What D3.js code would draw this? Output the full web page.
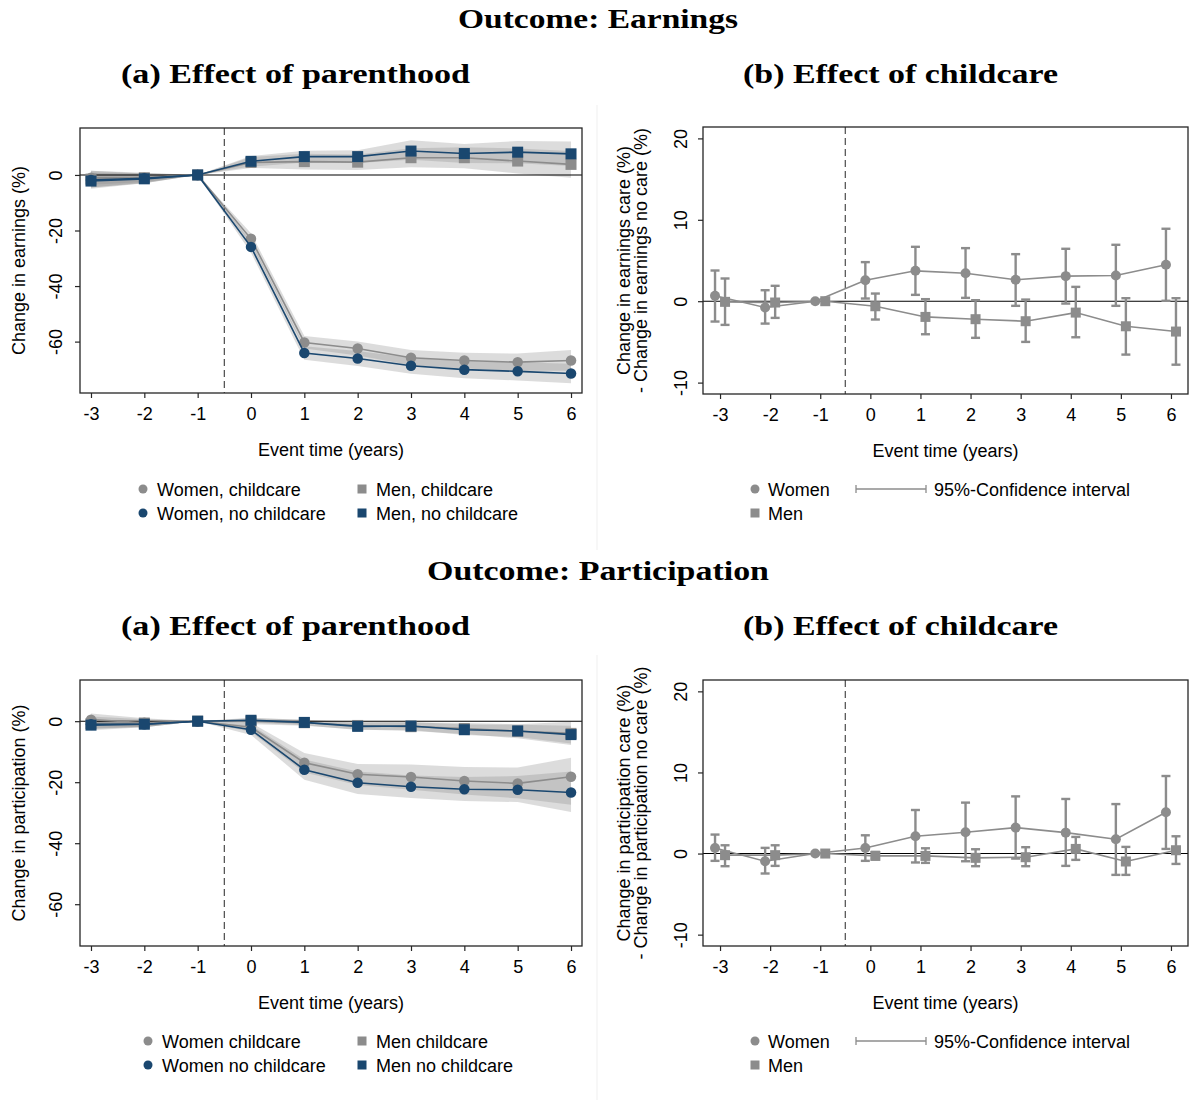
<!DOCTYPE html>
<html><head><meta charset="utf-8">
<script src="https://cdn.jsdelivr.net/npm/d3@7"></script>
<style>body{margin:0;background:#fff}</style>
</head><body>
<script>
// ---------- data ----------
const years = [-3, -2, -1, 0, 1, 2, 3, 4, 5, 6];
const yTicksParent = [0, -20, -40, -60];
const yTicksCare = [20, 10, 0, -10];

// Earnings: effect of parenthood
const earnWomenCare   = [-1.0, -1.0, 0, -23.0, -60.3, -62.5, -65.8, -66.8, -67.4, -66.8];
const earnWomenCareLo = [-3.5, -2.5, 0, -25.0, -62.5, -65.0, -68.5, -69.7, -70.5, -70.5];
const earnWomenCareHi = [1.5, 0.5, 0, -21.0, -58.0, -60.0, -63.0, -64.0, -64.3, -63.0];
const earnWomenNo     = [-1.8, -1.2, 0, -25.9, -64.1, -66.1, -68.7, -70.1, -70.7, -71.5];
const earnWomenNoLo   = [-4.5, -3.0, 0, -28.0, -66.5, -68.8, -71.6, -73.2, -74.0, -75.0];
const earnWomenNoHi   = [0.9, 0.6, 0, -23.8, -61.7, -63.4, -65.8, -67.0, -67.4, -68.0];
const earnMenCare     = [-1.5, -1.0, 0, 4.5, 4.8, 4.6, 6.2, 6.2, 5.0, 3.8];
const earnMenCareLo   = [-4.5, -2.8, 0, 2.5, 2.0, 1.8, 2.8, 2.4, 0.5, -1.0];
const earnMenCareHi   = [1.5, 0.8, 0, 6.5, 7.6, 7.4, 9.6, 10.0, 9.5, 8.6];
const earnMenNo       = [-2.2, -1.4, 0, 4.9, 6.6, 6.6, 8.6, 7.7, 8.2, 7.6];
const earnMenNoLo     = [-5.0, -3.0, 0, 3.0, 4.5, 4.3, 5.5, 4.3, 4.2, 3.2];
const earnMenNoHi     = [0.6, 0.2, 0, 6.8, 8.7, 8.9, 12.5, 11.1, 12.2, 12.0];

// Participation: effect of parenthood
const partWomenCare   = [0.5, -0.5, 0, -2.0, -13.6, -17.4, -18.3, -19.6, -20.4, -18.2];
const partWomenCareLo = [-1.5, -2.0, 0, -3.5, -16.8, -20.9, -22.5, -24.0, -25.3, -27.4];
const partWomenCareHi = [2.5, 1.0, 0, -0.5, -10.4, -14.0, -14.2, -15.0, -15.2, -12.0];
const partWomenNo     = [-1.0, -1.0, 0, -2.8, -15.9, -20.2, -21.5, -22.3, -22.5, -23.4];
const partWomenNoLo   = [-2.5, -2.0, 0, -4.5, -19.2, -23.9, -25.2, -26.2, -26.5, -29.8];
const partWomenNoHi   = [0.5, 0.0, 0, -1.2, -12.6, -16.5, -17.8, -18.3, -18.0, -16.5];
const partMenCare     = [-0.8, -0.6, 0, 0.0, -0.5, -1.4, -1.8, -2.4, -3.3, -4.0];
const partMenCareLo   = [-2.5, -1.8, 0, -1.0, -1.5, -2.7, -3.2, -4.2, -5.6, -7.8];
const partMenCareHi   = [1.5, 0.6, 0, 1.0, 0.5, -0.1, -0.4, -0.6, -1.0, -0.2];
const partMenNo       = [-1.3, -1.0, 0, 0.3, -0.4, -1.7, -1.6, -2.8, -3.2, -4.4];
const partMenNoLo     = [-3.0, -2.0, 0, -0.5, -1.3, -2.9, -2.9, -4.5, -5.2, -7.3];
const partMenNoHi     = [0.4, 0.0, 0, 1.1, 0.5, -0.5, -0.3, -1.1, -1.2, -1.5];

// Earnings: effect of childcare (difference)
const earnDiffWomen   = [0.66, -0.78, 0, 2.58, 3.73, 3.44, 2.63, 3.08, 3.16, 4.47];
const earnDiffWomenLo = [-2.5, -2.75, 0, 0.33, 0.78, 0.41, -0.57, -0.29, -0.57, 0.05];
const earnDiffWomenHi = [3.77, 1.35, 0, 4.8, 6.68, 6.52, 5.78, 6.44, 6.93, 8.9];
const earnDiffMen     = [-0.08, -0.16, 0, -0.62, -1.93, -2.21, -2.46, -1.4, -3.08, -3.73];
const earnDiffMenLo   = [-2.91, -2.05, 0, -2.25, -4.06, -4.5, -5.0, -4.43, -6.56, -7.8];
const earnDiffMenHi   = [2.79, 1.89, 0, 0.94, 0.25, 0.12, 0.2, 1.76, 0.37, 0.37];

// Participation: effect of childcare (difference)
const partDiffWomen   = [0.69, -0.95, 0, 0.69, 2.13, 2.62, 3.2, 2.58, 1.76, 5.09];
const partDiffWomenLo = [-0.9, -2.46, 0, -0.9, -1.1, -0.95, -0.62, -1.52, -2.63, 0.57];
const partDiffWomenHi = [2.34, 0.7, 0, 2.25, 5.37, 6.28, 7.05, 6.73, 6.1, 9.56];
const partDiffMen     = [-0.2, -0.2, 0, -0.29, -0.29, -0.53, -0.45, 0.57, -0.98, 0.41];
const partDiffMenLo   = [-1.56, -1.52, 0, -0.7, -1.15, -1.56, -1.56, -0.78, -2.63, -1.28];
const partDiffMenHi   = [1.02, 1.02, 0, 0.2, 0.65, 0.53, 0.78, 2.05, 0.82, 2.13];

// ---------- drawing ----------
const GRAY = "#8c8c8c", NAVY = "#1a476f", FRAME = "#262626";
const SANS = "'Liberation Sans', Arial, Helvetica, sans-serif";
const SERIF = "'Liberation Serif', 'DejaVu Serif', serif";

const svg = d3.select("body").append("svg")
  .attr("width", 1189).attr("height", 1102)
  .style("font-family", SANS);

function title(txt, cx, y, w) {
  svg.append("text").attr("x", cx - w / 2).attr("y", y)
    .attr("textLength", w).attr("lengthAdjust", "spacingAndGlyphs")
    .style("font-family", SERIF).style("font-weight", "bold").style("font-size", "27px")
    .text(txt);
}
title("Outcome: Earnings", 598, 28, 280);
title("(a) Effect of parenthood", 295.5, 83, 349);
title("(b) Effect of childcare", 900.5, 83, 315);
title("Outcome: Participation", 598, 580, 342);
title("(a) Effect of parenthood", 295.5, 635, 349);
title("(b) Effect of childcare", 900.5, 635, 315);

// faint separators
svg.append("line").attr("x1", 597).attr("x2", 597).attr("y1", 105).attr("y2", 550).attr("stroke", "#efefef");
svg.append("line").attr("x1", 597).attr("x2", 597).attr("y1", 655).attr("y2", 1100).attr("stroke", "#efefef");

function axes(g, x, y, L, R, T, B, yTicks, labOff) {
  const xa = g.append("g").attr("transform", `translate(0,${B})`)
    .call(d3.axisBottom(x).tickValues(years).tickSize(5).tickSizeOuter(0).tickPadding(9).tickFormat(d => String(d)));
  const ya = g.append("g").attr("transform", `translate(${L},0)`)
    .call(d3.axisLeft(y).tickValues(yTicks).tickSize(5).tickSizeOuter(0).tickFormat(d => String(d)));
  [xa, ya].forEach(a => {
    a.select(".domain").remove();
    a.selectAll("line").attr("stroke", FRAME).attr("stroke-width", 1.2);
    a.selectAll("text").style("font-family", SANS).style("font-size", "18px").attr("fill", "#000");
  });
  ya.selectAll("text").attr("transform", "rotate(-90)").attr("x", 0).attr("y", -labOff)
    .attr("dy", 0).attr("text-anchor", "middle");
  g.append("rect").attr("x", L).attr("y", T).attr("width", R - L).attr("height", B - T)
    .attr("fill", "none").attr("stroke", FRAME).attr("stroke-width", 1.3);
}

function refLines(g, x, y, L, R, T, B) {
  g.append("line").attr("x1", L).attr("x2", R).attr("y1", y(0)).attr("y2", y(0))
    .attr("stroke", "#000").attr("stroke-width", 1.1);
  g.append("line").attr("x1", x(-0.5)).attr("x2", x(-0.5)).attr("y1", T).attr("y2", B)
    .attr("stroke", "#4a4a4a").attr("stroke-width", 1.2).attr("stroke-dasharray", "7,4");
}

function marker(g, cx, cy, shape, color, size) {
  if (shape === "circle") {
    g.append("circle").attr("cx", cx).attr("cy", cy).attr("r", size / 2).attr("fill", color);
  } else {
    g.append("rect").attr("x", cx - size / 2).attr("y", cy - size / 2)
      .attr("width", size).attr("height", size).attr("fill", color);
  }
}

function panelParent(cfg) {
  const { L, R, T, B } = cfg;
  const g = svg.append("g");
  const x = d3.scaleLinear().domain([-3.206, 6.206]).range([L, R]);
  const y = d3.scaleLinear().domain(cfg.yd).range([B, T]);
  const rows = s => years.map((t, i) => ({ t, v: s.v[i], lo: s.lo[i], hi: s.hi[i] }));
  cfg.series.forEach(s => {
    g.append("path").datum(rows(s))
      .attr("d", d3.area().x(d => x(d.t)).y0(d => y(d.lo)).y1(d => y(d.hi)))
      .attr("fill", "#8a8a8a").attr("fill-opacity", 0.3);
  });
  refLines(g, x, y, L, R, T, B);
  cfg.series.forEach(s => {
    g.append("path").datum(rows(s))
      .attr("d", d3.line().x(d => x(d.t)).y(d => y(d.v)))
      .attr("fill", "none").attr("stroke", s.color).attr("stroke-width", 1.6);
    rows(s).forEach(d => marker(g, x(d.t), y(d.v), s.shape, s.color, s.shape === "circle" ? 10.5 : 11));
  });
  axes(g, x, y, L, R, T, B, yTicksParent, 18);
  g.append("text").attr("transform", `translate(25,${(T + B) / 2}) rotate(-90)`)
    .attr("text-anchor", "middle").style("font-size", "18px").text(cfg.ylab);
  g.append("text").attr("x", (L + R) / 2).attr("y", B + 63).attr("text-anchor", "middle")
    .style("font-size", "18px").text("Event time (years)");
  // legend
  const lg = cfg.legend;
  const items = [
    { x: lg.c1, y: lg.y1, s: cfg.series[0] }, { x: lg.c2, y: lg.y1, s: cfg.series[1] },
    { x: lg.c1, y: lg.y2, s: cfg.series[2] }, { x: lg.c2, y: lg.y2, s: cfg.series[3] }
  ];
  items.forEach(it => {
    marker(g, it.x, it.y, it.s.shape, it.s.color, it.s.shape === "circle" ? 9 : 9);
    g.append("text").attr("x", it.x + 14).attr("y", it.y + 6.5).style("font-size", "18px").text(it.s.name);
  });
}

function panelCare(cfg) {
  const { L, R, T, B } = cfg;
  const g = svg.append("g");
  const x = d3.scaleLinear().domain([-3.34, 6.34]).range([L, R]);
  const y = d3.scaleLinear().domain(cfg.yd).range([B, T]);
  refLines(g, x, y, L, R, T, B);
  cfg.series.forEach(s => {
    const rows = years.map((t, i) => ({ t: t + s.off, v: s.v[i], lo: s.lo[i], hi: s.hi[i] }));
    g.append("path").datum(rows)
      .attr("d", d3.line().x(d => x(d.t)).y(d => y(d.v)))
      .attr("fill", "none").attr("stroke", GRAY).attr("stroke-width", 1.6);
    rows.forEach(d => {
      if (d.hi === d.lo) return;
      const cx = x(d.t);
      g.append("line").attr("x1", cx).attr("x2", cx).attr("y1", y(d.lo)).attr("y2", y(d.hi))
        .attr("stroke", GRAY).attr("stroke-width", 2.4);
      [d.lo, d.hi].forEach(v => g.append("line").attr("x1", cx - 4.5).attr("x2", cx + 4.5)
        .attr("y1", y(v)).attr("y2", y(v)).attr("stroke", GRAY).attr("stroke-width", 2.4));
    });
    rows.forEach(d => marker(g, x(d.t), y(d.v), s.shape, GRAY, 10));
  });
  axes(g, x, y, L, R, T, B, yTicksCare, 16);
  g.append("text").attr("transform", `translate(630,${(T + B) / 2}) rotate(-90)`)
    .attr("text-anchor", "middle").style("font-size", "18px").text(cfg.ylab1);
  g.append("text").attr("transform", `translate(647,${(T + B) / 2}) rotate(-90)`)
    .attr("text-anchor", "middle").style("font-size", "18px").text(cfg.ylab2);
  g.append("text").attr("x", (L + R) / 2).attr("y", B + 63).attr("text-anchor", "middle")
    .style("font-size", "18px").text("Event time (years)");
  const ly1 = cfg.legY, ly2 = cfg.legY + 24;
  marker(g, 755, ly1, "circle", GRAY, 9);
  g.append("text").attr("x", 768).attr("y", ly1 + 6.5).style("font-size", "18px").text("Women");
  marker(g, 755, ly2, "square", GRAY, 9);
  g.append("text").attr("x", 768).attr("y", ly2 + 6.5).style("font-size", "18px").text("Men");
  g.append("line").attr("x1", 856).attr("x2", 926).attr("y1", ly1).attr("y2", ly1).attr("stroke", GRAY).attr("stroke-width", 1.3);
  [856, 926].forEach(xx => g.append("line").attr("x1", xx).attr("x2", xx).attr("y1", ly1 - 4).attr("y2", ly1 + 4)
    .attr("stroke", GRAY).attr("stroke-width", 1.3));
  g.append("text").attr("x", 934).attr("y", ly1 + 6.5).style("font-size", "18px").text("95%-Confidence interval");
}

panelParent({
  L: 80, R: 582, T: 128, B: 393, yd: [-78.5, 16.9],
  ylab: "Change in earnings (%)",
  legend: { c1: 143, c2: 362, y1: 489, y2: 513 },
  series: [
    { name: "Women, childcare", v: earnWomenCare, lo: earnWomenCareLo, hi: earnWomenCareHi, color: GRAY, shape: "circle" },
    { name: "Men, childcare", v: earnMenCare, lo: earnMenCareLo, hi: earnMenCareHi, color: GRAY, shape: "square" },
    { name: "Women, no childcare", v: earnWomenNo, lo: earnWomenNoLo, hi: earnWomenNoHi, color: NAVY, shape: "circle" },
    { name: "Men, no childcare", v: earnMenNo, lo: earnMenNoLo, hi: earnMenNoHi, color: NAVY, shape: "square" }
  ]
});

panelParent({
  L: 80, R: 582, T: 680, B: 946, yd: [-73.7, 13.5],
  ylab: "Change in participation (%)",
  legend: { c1: 148, c2: 362, y1: 1041, y2: 1065 },
  series: [
    { name: "Women childcare", v: partWomenCare, lo: partWomenCareLo, hi: partWomenCareHi, color: GRAY, shape: "circle" },
    { name: "Men childcare", v: partMenCare, lo: partMenCareLo, hi: partMenCareHi, color: GRAY, shape: "square" },
    { name: "Women no childcare", v: partWomenNo, lo: partWomenNoLo, hi: partWomenNoHi, color: NAVY, shape: "circle" },
    { name: "Men no childcare", v: partMenNo, lo: partMenNoLo, hi: partMenNoHi, color: NAVY, shape: "square" }
  ]
});

panelCare({
  L: 703, R: 1188, T: 127, B: 394, yd: [-11.4, 21.4],
  ylab1: "Change in earnings care (%)", ylab2: "- Change in earnings no care (%)",
  legY: 489,
  series: [
    { v: earnDiffWomen, lo: earnDiffWomenLo, hi: earnDiffWomenHi, shape: "circle", off: -0.1 },
    { v: earnDiffMen, lo: earnDiffMenLo, hi: earnDiffMenHi, shape: "square", off: 0.1 }
  ]
});

panelCare({
  L: 703, R: 1188, T: 680, B: 946, yd: [-11.4, 21.4],
  ylab1: "Change in participation care (%)", ylab2: "- Change in participation no care (%)",
  legY: 1041,
  series: [
    { v: partDiffWomen, lo: partDiffWomenLo, hi: partDiffWomenHi, shape: "circle", off: -0.1 },
    { v: partDiffMen, lo: partDiffMenLo, hi: partDiffMenHi, shape: "square", off: 0.1 }
  ]
});
</script>
</body></html>
